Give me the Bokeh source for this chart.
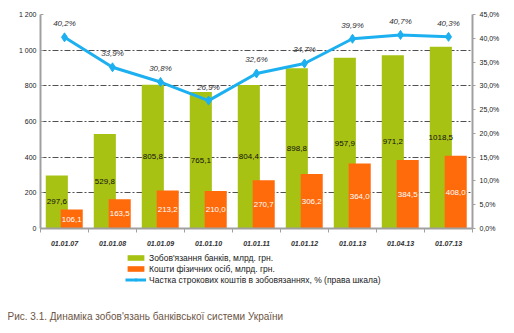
import numpy as np
from bokeh.plotting import figure
from bokeh.layouts import column
from bokeh.models import (ColumnDataSource, Range1d, LinearAxis, FixedTicker, Legend,
                          LegendItem, Label)
from bokeh.transform import dodge
from bokeh.core.properties import value
from bokeh.embed import file_html
from bokeh.resources import INLINE

categories = ["01.01.07", "01.01.08", "01.01.09", "01.01.10", "01.01.11",
              "01.01.12", "01.01.13", "01.04.13", "01.07.13"]
liabilities = [297.6, 529.8, 805.8, 765.1, 804.4, 898.8, 957.9, 971.2, 1018.5]
households = [106.1, 163.5, 213.2, 210.0, 270.7, 306.2, 364.0, 384.5, 408.0]
term_share = [40.2, 33.9, 30.8, 26.9, 32.6, 34.7, 39.9, 40.7, 40.3]

left_ticks = [0, 200, 400, 600, 800, 1000, 1200]
right_ticks = [0, 5, 10, 15, 20, 25, 30, 35, 40, 45]

legend_labels = ["Зобов'язання банків, млрд. грн.",
                 "Кошти фізичних осіб, млрд. грн.",
                 "Частка строкових коштів в зобовязаннях, % (права шкала)"]
caption = "Рис. 3.1. Динаміка зобов'язань банківської системи України"

FONT = "Liberation Sans"
GREEN = "#a8c214"
ORANGE = "#ff6a0a"
BLUE = "#1cb0f0"

def fmt(v):
    return ("%.1f" % v).replace(".", ",")

n = len(categories)
x = np.arange(n) + 0.5
src = ColumnDataSource(dict(
    x=x, liab=liabilities, hh=households, share=term_share,
    liab_mid=[v / 2 for v in liabilities], hh_mid=[v / 2 for v in households],
    liab_lbl=[fmt(v) for v in liabilities], hh_lbl=[fmt(v) for v in households],
    share_lbl=[fmt(v) + "%" for v in term_share],
))

p = figure(width=514, height=250, output_backend="svg", toolbar_location=None,
           x_range=Range1d(0, n), y_range=Range1d(0, 1200),
           min_border_left=40, min_border_right=42, min_border_top=14,
           min_border_bottom=22)
p.frame_align = False
p.outline_line_color = None
p.background_fill_color = "white"
p.border_fill_color = "white"
p.extra_y_ranges = {"pct": Range1d(0, 45)}

# grid
p.xgrid.grid_line_color = None
p.ygrid.ticker = FixedTicker(ticks=left_ticks)
p.ygrid.grid_line_color = "#505050"
p.ygrid.grid_line_dash = "6 2 2 2"
p.ygrid.grid_line_width = 1

# left axis
ya = p.yaxis[0]
ya.ticker = FixedTicker(ticks=left_ticks)
ya.major_label_overrides = {t: f"{t:,}".replace(",", " ") for t in left_ticks}
ya.axis_line_color = "#a0a0a0"
ya.axis_line_width = 2
ya.major_tick_line_color = "#a0a0a0"
ya.major_tick_in = 3
ya.major_tick_out = 0
ya.minor_tick_line_color = None
ya.major_label_text_font = FONT
ya.major_label_text_font_size = "7px"
ya.major_label_text_color = "#202020"
ya.major_label_standoff = 4

# right axis
ra = LinearAxis(y_range_name="pct", ticker=FixedTicker(ticks=right_ticks))
ra.major_label_overrides = {t: fmt(t) + "%" for t in right_ticks}
ra.axis_line_color = "#a0a0a0"
ra.axis_line_width = 2
ra.major_tick_line_color = "#a0a0a0"
ra.major_tick_in = 0
ra.major_tick_out = 3
ra.minor_tick_line_color = None
ra.major_label_text_font = FONT
ra.major_label_text_font_size = "7px"
ra.major_label_text_color = "#202020"
ra.major_label_standoff = 4
p.add_layout(ra, "right")

# bottom axis
xa = p.xaxis[0]
xa.ticker = FixedTicker(ticks=list(x), minor_ticks=list(range(n + 1)))
xa.major_label_overrides = {float(xx): c for xx, c in zip(x, categories)}
xa.axis_line_color = "#a0a0a0"
xa.axis_line_width = 2
xa.major_tick_line_color = None
xa.minor_tick_line_color = "#a0a0a0"
xa.minor_tick_in = 0
xa.minor_tick_out = 4
xa.major_label_text_font = FONT
xa.major_label_text_font_size = "7px"
xa.major_label_text_font_style = "bold italic"
xa.major_label_text_color = "#303030"
xa.major_label_standoff = 6

# bars
p.vbar(x=dodge("x", -0.16), top="liab", width=0.46, source=src,
       fill_color=GREEN, line_color=None)
p.vbar(x=dodge("x", 0.15), top="hh", width=0.46, source=src,
       fill_color=ORANGE, line_color=None)

p.text(x=dodge("x", -0.16), y="liab_mid", text="liab_lbl", source=src,
       text_font=value(FONT), text_font_size="8px", text_color="#101010",
       text_align="center", text_baseline="middle")
p.text(x=dodge("x", 0.15), y="hh_mid", text="hh_lbl", source=src,
       text_font=value(FONT), text_font_size="8px", text_color="white",
       text_align="center", text_baseline="middle")

# line
p.line(x="x", y="share", source=src, y_range_name="pct",
       line_color=BLUE, line_width=3)
p.scatter(x="x", y="share", source=src, y_range_name="pct",
          marker="diamond", size=9, fill_color=BLUE, line_color=BLUE)
p.text(x="x", y="share", text="share_lbl", source=src, y_range_name="pct",
       text_font=value(FONT), text_font_size="8px", text_color="#303030",
       text_font_style="italic", text_align="center", text_baseline="bottom",
       y_offset=-9)

# ---- legend + caption panel ----
H2 = 83
p2 = figure(width=514, height=H2, output_backend="svg", toolbar_location=None,
            x_range=Range1d(0, 514), y_range=Range1d(0, H2),
            x_axis_type=None, y_axis_type=None,
            min_border_left=0, min_border_right=0, min_border_top=0,
            min_border_bottom=0)
p2.frame_align = False
p2.outline_line_color = None
p2.grid.grid_line_color = None
p2.background_fill_color = "white"
p2.border_fill_color = "white"

dummy = ColumnDataSource(dict(x=[-1000], y=[-1000]))
g2 = p2.vbar(x="x", top="y", width=1, source=dummy, fill_color=GREEN, line_color=None)
o2 = p2.vbar(x="x", top="y", width=1, source=dummy, fill_color=ORANGE, line_color=None)
l2 = p2.line(x="x", y="y", source=dummy, line_color=BLUE, line_width=3)
m2 = p2.scatter(x="x", y="y", source=dummy, marker="diamond", size=7,
                fill_color=BLUE, line_color=BLUE)

legend = Legend(items=[
    LegendItem(label=legend_labels[0], renderers=[g2]),
    LegendItem(label=legend_labels[1], renderers=[o2]),
    LegendItem(label=legend_labels[2], renderers=[l2, m2]),
], location=(125, 48), orientation="vertical")
legend.border_line_color = None
legend.background_fill_alpha = 0
legend.padding = 0
legend.margin = 0
legend.spacing = 0
legend.glyph_width = 21
legend.glyph_height = 7
legend.label_height = 11
legend.label_standoff = 3
legend.label_text_font = FONT
legend.label_text_font_size = "8.5px"
legend.label_text_color = "#202020"
legend.label_text_baseline = "middle"
p2.add_layout(legend, "center")

p2.add_layout(Label(x=7, y=H2 - 66, text=caption,
                    text_font=FONT, text_font_size="10px", text_color="#6e5545",
                    text_baseline="middle"))

open("out.html", "w").write(file_html(column(p, p2, spacing=0), INLINE))
